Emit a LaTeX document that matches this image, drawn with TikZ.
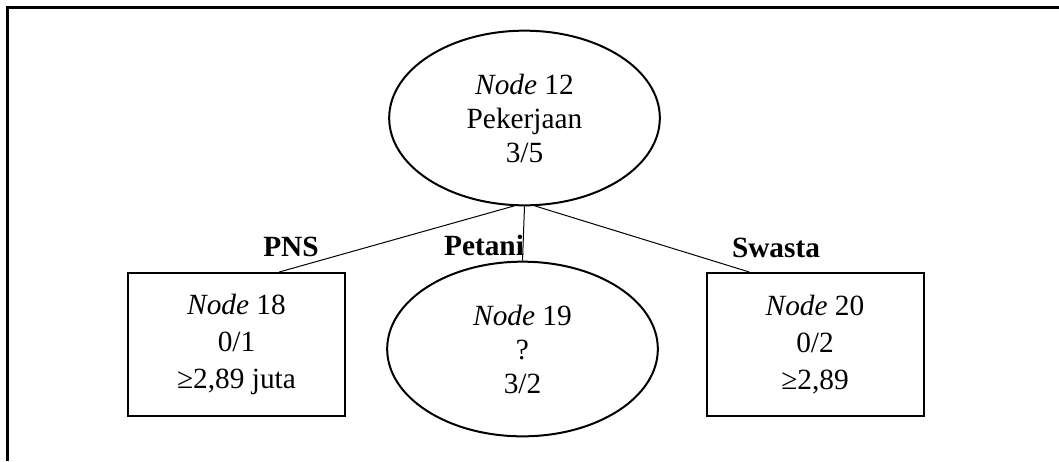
\documentclass[tikz,border=0pt]{standalone}
\usepackage{fontspec}
\setmainfont{Liberation Serif}
\usetikzlibrary{shapes.geometric,calc}
\begin{document}
\begin{tikzpicture}[x=0.75pt,y=-0.75pt,
  ell/.style={draw,ellipse,line width=1.5pt,inner sep=0pt,align=center,
    minimum width=203pt,minimum height=131pt,font=\fontsize{22}{25.5}\selectfont},
  leaf/.style={draw,rectangle,line width=1.5pt,inner sep=0pt,align=center,
    minimum width=162.75pt,minimum height=107.25pt,font=\fontsize{22}{27.5}\selectfont},
  lbl/.style={font=\fontsize{22}{26}\selectfont\bfseries,inner sep=0pt},
  conn/.style={line width=0.75pt}]
\useasboundingbox (0,0) rectangle (1059,461);
\draw[line width=2.2pt] (7.5,461) -- (7.5,7.5) -- (1059,7.5);
\node[ell] (n12) at (524.5,118) {\textit{Node} 12\\Pekerjaan\\3/5};
\node[leaf] (n18) at (236.5,344.5) {\textit{Node} 18\\0/1\\≥2,89 juta};
\node[ell] (n19) at (522.5,349) {\textit{Node} 19\\?\\3/2};
\node[leaf] (n20) at (815,344.5) {\textit{Node} 20\\0/2\\≥2,89};
\draw[conn] (n12.263) -- ($(n18.north west)!0.695!(n18.north east)$);
\draw[conn] (n12.south) -- (n19.north);
\draw[conn] (n12.277) -- ($(n20.north west)!0.2!(n20.north east)$);
\node[lbl] (pns) at (291,247) {PNS};
\node[lbl] (petani) at (484,245) {Petani};
\node[lbl] (swasta) at (776,248) {Swasta};
\end{tikzpicture}
\end{document}
